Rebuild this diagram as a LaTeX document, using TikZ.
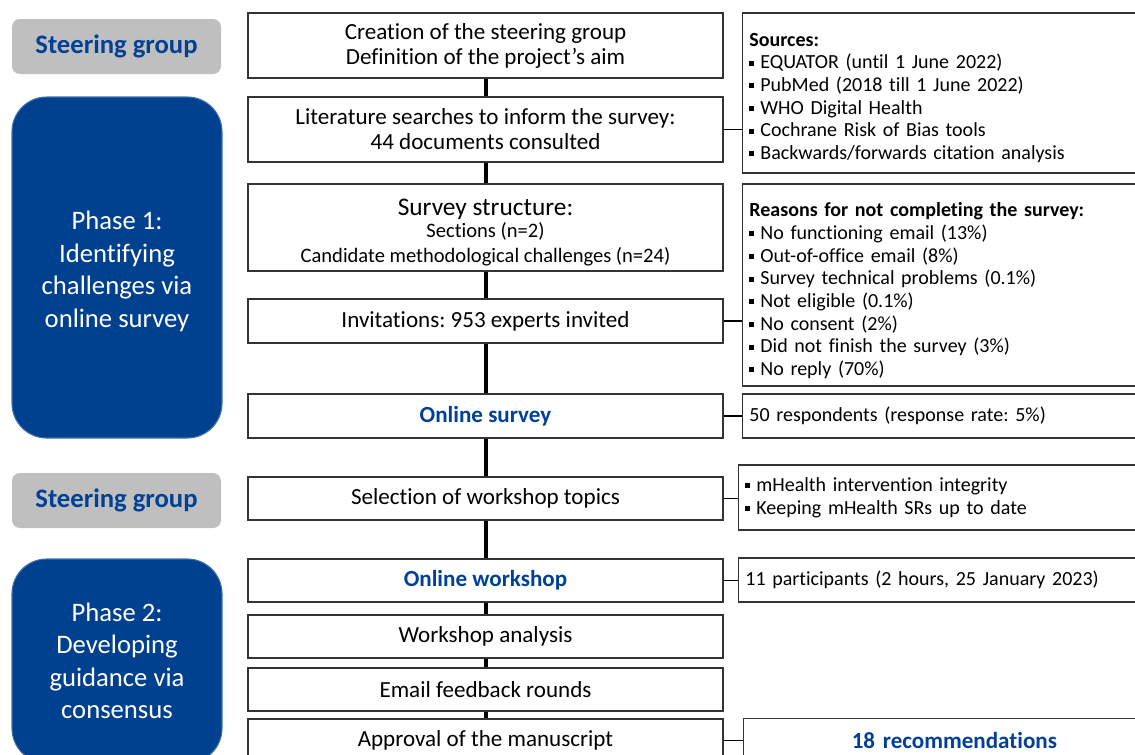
\documentclass[tikz,border=0pt]{standalone}
\usepackage{fontspec}
\setmainfont{Carlito}[Ligatures={TeX,NoCommon}]
\usepackage{xcolor}
\usetikzlibrary{calc,positioning}
\definecolor{phaseblue}{RGB}{0,65,143}
\definecolor{textblue}{RGB}{0,64,150}
\definecolor{steergray}{RGB}{191,191,191}
\newcommand{\sqb}{\rule[0.32ex]{0.25em}{0.25em}\hspace{0.3em}}
\newcommand{\topstrut}[1]{\rule{0pt}{#1}}
\frenchspacing

\begin{document}
\begin{tikzpicture}[x=0.75pt,y=-0.75pt,
  box/.style={draw=black!80,line width=1.1pt,minimum width=356.25pt,inner sep=0pt,align=center,font=\fontsize{17.3}{18.75}\selectfont},
  sidebox/.style={draw=black!80,line width=1.1pt,anchor=west,text width=306pt,inner sep=5pt,align=left,font=\fontsize{15}{17}\selectfont},
  keytext/.style={font=\fontsize{17.3}{18.75}\selectfont\bfseries,text=textblue},
  steer/.style={fill=steergray,rounded corners=6pt,minimum width=156.75pt,minimum height=41.25pt,font=\fontsize{20}{24}\selectfont\bfseries,text=textblue},
  phase/.style={fill=phaseblue,draw=phaseblue!75!white,line width=0.8pt,rounded corners=26pt,minimum width=157.5pt,align=center,text=white,font=\fontsize{20}{24.4}\selectfont},
  spine/.style={line width=3pt},
  link/.style={line width=1pt}]
  \useasboundingbox (0,0) rectangle (1135,754);
  \clip (0,0) rectangle (1135,754);

  \node[steer] (sg1) at (116.5,46.5) {Steering group};
  \node[phase,minimum height=255.75pt] (ph1) at (117,267.5) {\topstrut{19.5pt}Phase 1:\\Identifying\\challenges via\\online survey};
  \node[steer] (sg2) at (116.5,500.5) {Steering group};
  \node[phase,minimum height=153pt] (ph2) at (117,661) {Phase 2:\\Developing\\guidance via\\consensus};

  \node[box,minimum height=48.75pt] (b1) at (485.5,45.5) {Creation of the steering group\\Definition of the project's aim};
  \node[box,minimum height=48.75pt] (b2) at (485.5,129.5) {Literature searches to inform the survey:\\44 documents consulted};
  \node[box,minimum height=65.25pt] (b3) at (485.5,227.5) {\fontsize{19}{20}\selectfont\topstrut{20pt}Survey structure:\\[-2pt]\fontsize{15.4}{17.25}\selectfont Sections (n=2)\\\fontsize{15.4}{17.25}\selectfont Candidate methodological challenges (n=24)};
  \node[box,minimum height=33pt] (b4) at (485.5,321) {Invitations: 953 experts invited};
  \node[box,keytext,minimum height=33pt] (b5) at (485.5,416) {Online survey};
  \node[box,minimum height=32.25pt] (b6) at (485.5,498.5) {Selection of workshop topics};
  \node[box,keytext,minimum height=32.25pt] (b7) at (485.5,580.5) {Online workshop};
  \node[box,minimum height=32.25pt] (b8) at (485.5,636.5) {Workshop analysis};
  \node[box,minimum height=32.25pt] (b9) at (485.5,689.5) {Email feedback rounds};
  \node[box,minimum height=32.25pt] (b10) at (485.5,740.5) {Approval of the manuscript};

  \node[sidebox,minimum height=120pt] (r1) at (742,93) {\topstrut{17pt}\textbf{Sources:}\\\sqb EQUATOR (until 1 June 2022)\\\sqb PubMed (2018 till 1 June 2022)\\\sqb WHO Digital Health\\\sqb Cochrane Risk of Bias tools\\\sqb Backwards/forwards citation analysis};
  \node[sidebox,minimum height=151.5pt] (r2) at (742,285) {\topstrut{19pt}\textbf{Reasons for not completing the survey:}\\\sqb No functioning email (13\%)\\\sqb Out-of-office email (8\%)\\\sqb Survey technical problems (0.1\%)\\\sqb Not eligible (0.1\%)\\\sqb No consent (2\%)\\\sqb Did not finish the survey (3\%)\\\sqb No reply (70\%)};
  \node[sidebox,minimum height=33pt] (r3) at (742,416) {50 respondents (response rate: 5\%)};
  \node[sidebox,minimum height=48.75pt] (r4) at (738,497.5) {\sqb mHealth intervention integrity\\\sqb Keeping mHealth SRs up to date};
  \node[sidebox,minimum height=33pt] (r5) at (738,580) {11 participants (2 hours, 25 January 2023)};
  \node[sidebox,align=center,keytext,minimum height=33pt] (r6) at (743,740.5) {18 recommendations};

  \foreach \a/\b in {b1/b2,b2/b3,b3/b4,b4/b5,b5/b6,b6/b7,b7/b8,b8/b9,b9/b10}
  \draw[spine] (\a.south) -- (\b.north);
  \foreach \a/\b in {b2/r1,b4/r2,b5/r3,b6/r4,b7/r5,b10/r6}
  \draw[link] (\a.east) -- (\a.east -| \b.west);
\end{tikzpicture}
\end{document}
